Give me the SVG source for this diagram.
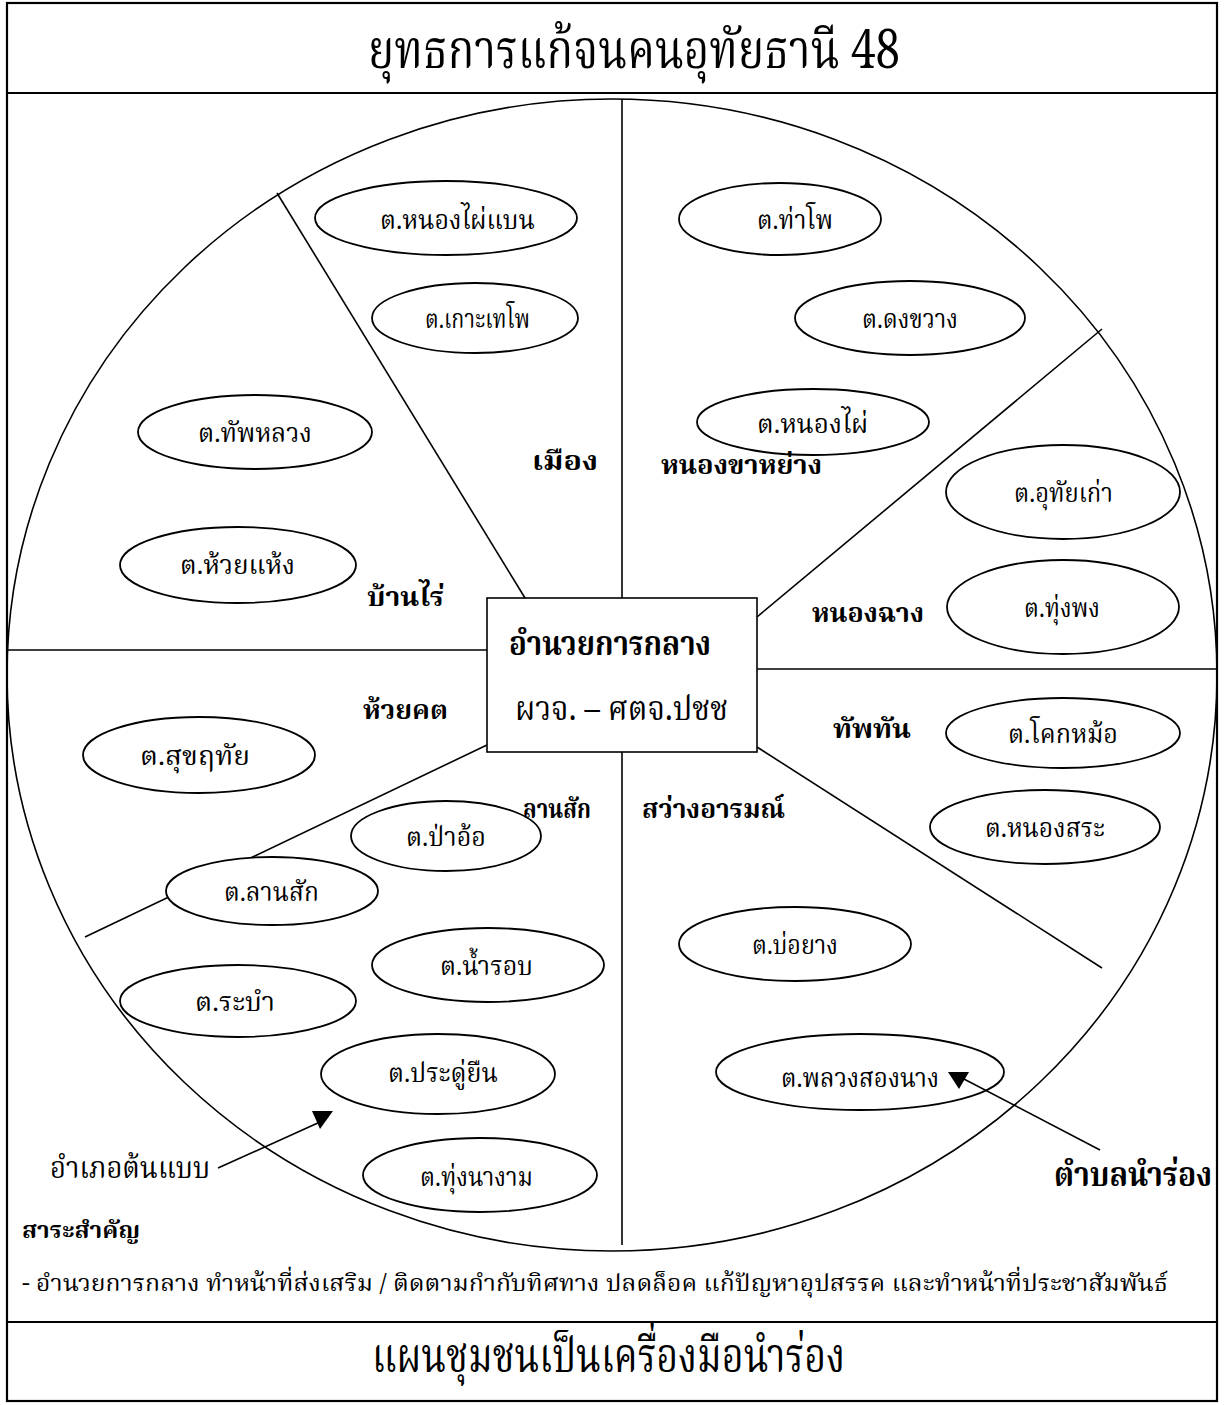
<svg xmlns="http://www.w3.org/2000/svg" width="1227" height="1405" viewBox="0 0 1227 1405">
<style>
.ln{stroke:#000;stroke-width:1.6;fill:none}
.fr{stroke:#000;stroke-width:2.2;fill:none}
.el{stroke:#000;stroke-width:1.8;fill:#fff}
text{font-family:"Noto Serif Thai","Noto Sans Thai","Noto Sans","DejaVu Sans",serif;fill:#000}
.t{font-size:26px}
.b{font-size:27px;font-weight:bold}
</style>
<rect width="1227" height="1405" fill="#fff"/>
<g id="frame">
<rect class="fr" x="7" y="3" width="1210" height="1398"/>
<line class="fr" x1="7" y1="93" x2="1217" y2="93"/>
<line class="fr" x1="7" y1="1322" x2="1217" y2="1322"/>
</g>
<g id="title"><text x="368" y="68" font-size="54" textLength="532" lengthAdjust="spacingAndGlyphs">ยุทธการแก้จนคนอุทัยธานี 48</text></g>
<g id="wheel">
<ellipse class="ln" cx="612" cy="675" rx="605" ry="576"/>
</g>
<g id="spokes">
<line class="ln" x1="622" y1="99" x2="622" y2="598"/>
<line class="ln" x1="622" y1="752" x2="622" y2="1245"/>
<line class="ln" x1="277" y1="193" x2="525" y2="598"/>
<line class="ln" x1="7" y1="650" x2="487" y2="650"/>
<line class="ln" x1="487" y1="745" x2="85" y2="937"/>
<line class="ln" x1="757" y1="617" x2="1102" y2="329"/>
<line class="ln" x1="757" y1="669" x2="1217" y2="669"/>
<line class="ln" x1="757" y1="747" x2="1102" y2="968"/>
</g>
<g id="center">
<rect class="ln" x="487" y="598" width="270" height="154" fill="#fff" stroke-width="2"/>
<text x="509" y="655" font-size="34" font-weight="bold" textLength="202" lengthAdjust="spacingAndGlyphs">อำนวยการกลาง</text>
<text x="515" y="720" font-size="34" textLength="213" lengthAdjust="spacingAndGlyphs">ผวจ. – ศตจ.ปชช</text>
</g>
<g id="n1"><ellipse class="el" cx="446" cy="218" rx="131" ry="37"/><text class="t" x="380" y="229" textLength="155" lengthAdjust="spacingAndGlyphs">ต.หนองไผ่แบน</text></g>
<g id="n2"><ellipse class="el" cx="475" cy="318" rx="103" ry="35"/><text class="t" x="425" y="328" textLength="105" lengthAdjust="spacingAndGlyphs">ต.เกาะเทโพ</text></g>
<g id="n3"><ellipse class="el" cx="780" cy="219" rx="101" ry="36"/><text class="t" x="757" y="229" textLength="76" lengthAdjust="spacingAndGlyphs">ต.ท่าโพ</text></g>
<g id="n4"><ellipse class="el" cx="910" cy="318" rx="115" ry="37"/><text class="t" x="862" y="328" textLength="96" lengthAdjust="spacingAndGlyphs">ต.ดงขวาง</text></g>
<g id="n5"><ellipse class="el" cx="813" cy="422" rx="116" ry="33"/><text class="t" x="757" y="433" textLength="111" lengthAdjust="spacingAndGlyphs">ต.หนองไผ่</text></g>
<g id="n6"><ellipse class="el" cx="1063" cy="492" rx="117" ry="47"/><text class="t" x="1014" y="502" textLength="99" lengthAdjust="spacingAndGlyphs">ต.อุทัยเก่า</text></g>
<g id="n7"><ellipse class="el" cx="1063" cy="607" rx="116" ry="47"/><text class="t" x="1024" y="617" textLength="76" lengthAdjust="spacingAndGlyphs">ต.ทุ่งพง</text></g>
<g id="n8"><ellipse class="el" cx="255" cy="432" rx="117" ry="37"/><text class="t" x="198" y="442" textLength="114" lengthAdjust="spacingAndGlyphs">ต.ทัพหลวง</text></g>
<g id="n9"><ellipse class="el" cx="238" cy="565" rx="118" ry="38"/><text class="t" x="180" y="574" textLength="115" lengthAdjust="spacingAndGlyphs">ต.ห้วยแห้ง</text></g>
<g id="n10"><ellipse class="el" cx="199" cy="755" rx="116" ry="38"/><text class="t" x="140" y="765" textLength="110" lengthAdjust="spacingAndGlyphs">ต.สุขฤทัย</text></g>
<g id="n11"><ellipse class="el" cx="1063" cy="733" rx="117" ry="35"/><text class="t" x="1008" y="743" textLength="110" lengthAdjust="spacingAndGlyphs">ต.โคกหม้อ</text></g>
<g id="n12"><ellipse class="el" cx="1045" cy="827" rx="115" ry="37"/><text class="t" x="985" y="837" textLength="120" lengthAdjust="spacingAndGlyphs">ต.หนองสระ</text></g>
<g id="n13"><ellipse class="el" cx="446" cy="836" rx="95" ry="35"/><text class="t" x="406" y="846" textLength="80" lengthAdjust="spacingAndGlyphs">ต.ป่าอ้อ</text></g>
<g id="n14"><ellipse class="el" cx="272" cy="891" rx="106" ry="34"/><text class="t" x="224" y="901" textLength="95" lengthAdjust="spacingAndGlyphs">ต.ลานสัก</text></g>
<g id="n15"><ellipse class="el" cx="488" cy="965" rx="116" ry="37"/><text class="t" x="440" y="975" textLength="93" lengthAdjust="spacingAndGlyphs">ต.น้ำรอบ</text></g>
<g id="n16"><ellipse class="el" cx="795" cy="944" rx="116" ry="37"/><text class="t" x="752" y="954" textLength="86" lengthAdjust="spacingAndGlyphs">ต.บ่อยาง</text></g>
<g id="n17"><ellipse class="el" cx="238" cy="1001" rx="118" ry="36"/><text class="t" x="195" y="1011" textLength="80" lengthAdjust="spacingAndGlyphs">ต.ระบำ</text></g>
<g id="n18"><ellipse class="el" cx="438" cy="1074" rx="117" ry="40"/><text class="t" x="388" y="1082" textLength="110" lengthAdjust="spacingAndGlyphs">ต.ประดู่ยืน</text></g>
<g id="n19"><ellipse class="el" cx="860" cy="1072" rx="144" ry="38"/><text class="t" x="781" y="1087" textLength="158" lengthAdjust="spacingAndGlyphs">ต.พลวงสองนาง</text></g>
<g id="n20"><ellipse class="el" cx="480" cy="1175" rx="117" ry="37"/><text class="t" x="420" y="1186" textLength="113" lengthAdjust="spacingAndGlyphs">ต.ทุ่งนางาม</text></g>
<g id="connectors">
<line class="ln" x1="218" y1="1168" x2="320" y2="1122"/>
<polygon points="312,1111 333,1111 320,1129" fill="#000"/>
<line class="ln" x1="1100" y1="1150" x2="962" y2="1078"/>
<polygon points="948,1072 969,1072 959,1089" fill="#000"/>
</g>
<g id="labels">
<text class="b" x="532" y="470" textLength="66" lengthAdjust="spacingAndGlyphs">เมือง</text>
<text class="b" x="661" y="474" textLength="161" lengthAdjust="spacingAndGlyphs">หนองขาหย่าง</text>
<text class="b" x="367" y="606" textLength="77" lengthAdjust="spacingAndGlyphs">บ้านไร่</text>
<text class="b" x="812" y="622" textLength="112" lengthAdjust="spacingAndGlyphs">หนองฉาง</text>
<text class="b" x="363" y="719" textLength="85" lengthAdjust="spacingAndGlyphs">ห้วยคต</text>
<text class="b" x="833" y="738" textLength="78" lengthAdjust="spacingAndGlyphs">ทัพทัน</text>
<text class="b" x="523" y="818" textLength="68" lengthAdjust="spacingAndGlyphs">ลานสัก</text>
<text class="b" x="642" y="818" textLength="143" lengthAdjust="spacingAndGlyphs">สว่างอารมณ์</text>
<text x="1054" y="1186" font-size="33" font-weight="bold" textLength="158" lengthAdjust="spacingAndGlyphs">ตำบลนำร่อง</text>
<text x="50" y="1178" font-size="30" textLength="160" lengthAdjust="spacingAndGlyphs">อำเภอต้นแบบ</text>
<text x="22" y="1238" font-size="23" font-weight="bold" textLength="118" lengthAdjust="spacingAndGlyphs">สาระสำคัญ</text>
<text x="22" y="1291" font-size="23" textLength="1146" lengthAdjust="spacingAndGlyphs">-  อำนวยการกลาง ทำหน้าที่ส่งเสริม / ติดตามกำกับทิศทาง ปลดล็อค แก้ปัญหาอุปสรรค และทำหน้าที่ประชาสัมพันธ์</text>
</g>
<g id="footer"><text x="372" y="1372" font-size="48" textLength="473" lengthAdjust="spacingAndGlyphs">แผนชุมชนเป็นเครื่องมือนำร่อง</text></g>
</svg>
